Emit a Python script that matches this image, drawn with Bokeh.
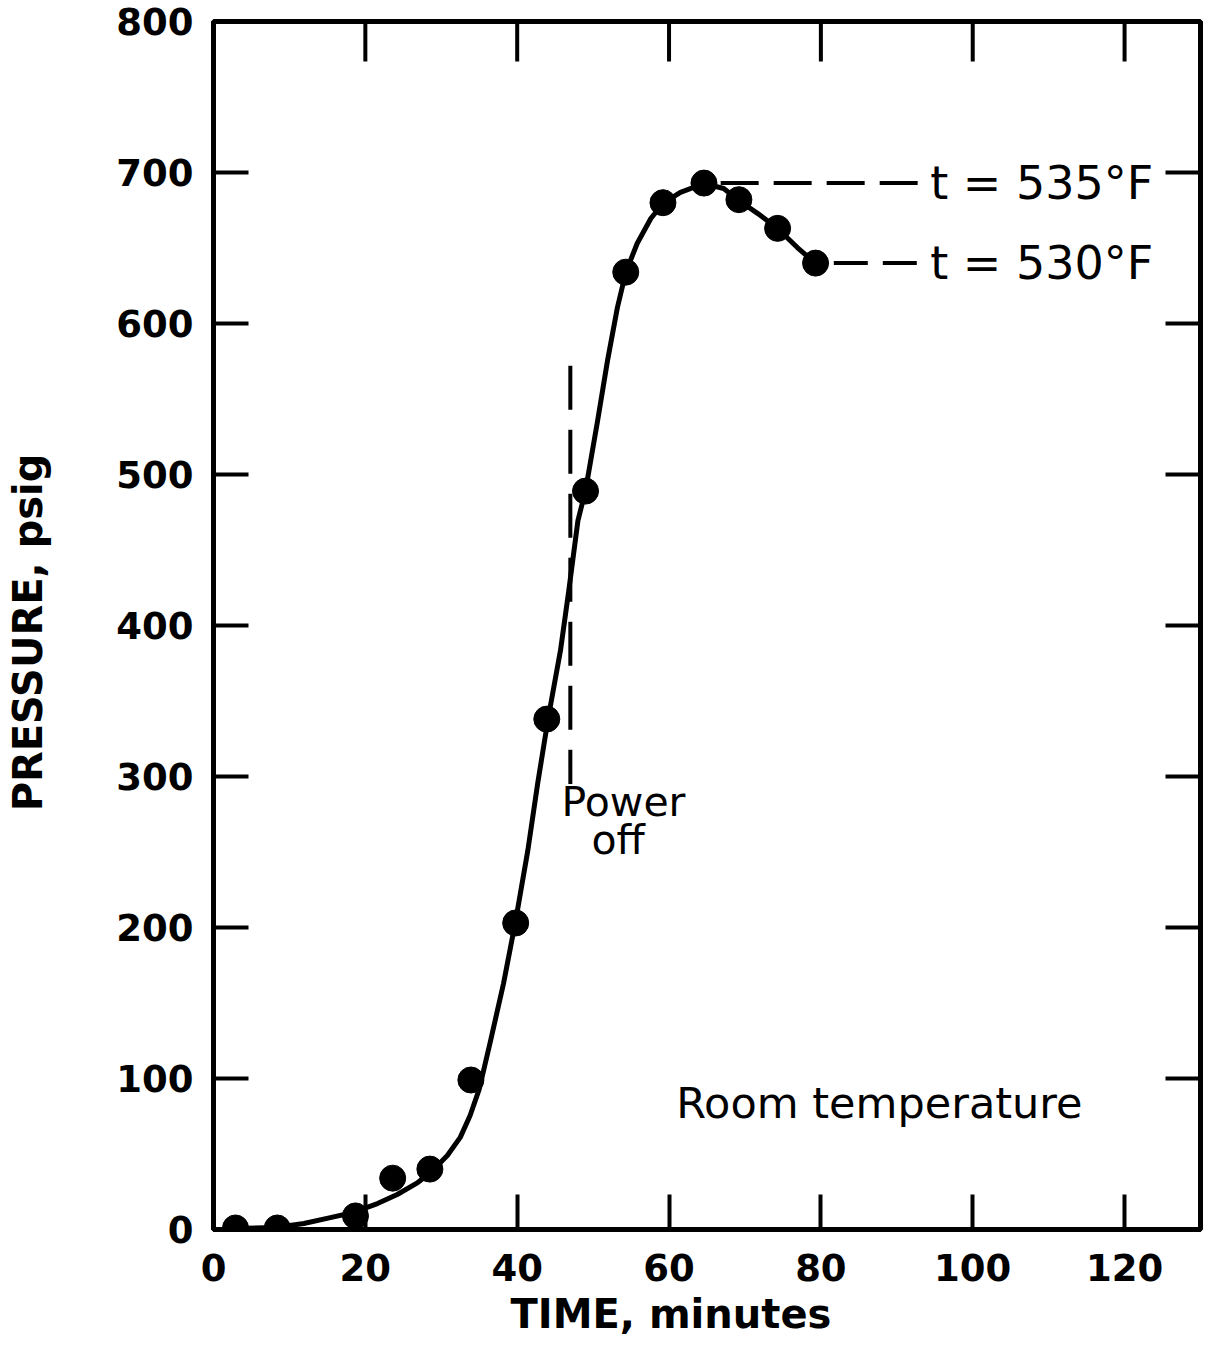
from bokeh.plotting import figure
from bokeh.models import Range1d, FixedTicker, Title
from bokeh.core.properties import value
from bokeh.embed import file_html
from bokeh.resources import INLINE

# Measured pressure readings (time in minutes, pressure in psig)
time_min = [2.9, 8.4, 18.7, 23.6, 28.5, 33.9, 39.8, 43.9, 49.0, 54.3, 59.2, 64.6, 69.2, 74.3, 79.3]
pressure_psig = [1, 1, 9, 34, 40, 99, 203, 338, 489, 634, 680, 693, 682, 663, 640]

# Faired curve drawn through the readings
curve_time = [2.6, 8.2, 11.9, 15.4, 18.4, 21.6, 24.2, 26.9, 28.6, 30.8, 32.5, 33.8,
              35.0, 36.5, 38.2, 39.8, 41.4, 42.7, 44.1, 45.7, 46.8, 48.0, 49.0,
              50.6, 51.9, 53.2, 54.3, 55.8, 57.6, 59.2, 61.5, 64.6, 67.2, 69.2,
              71.7, 74.3, 76.9, 79.3]
curve_psig = [0.7, 1.3, 4.0, 7.9, 11.3, 17.2, 23.2, 31.1, 37.7, 49.0, 61.0, 75.5,
              93.0, 125.2, 162.9, 204.6, 251.0, 295.4, 339.1, 383.4, 423.2, 469.5, 489.4,
              535.8, 575.5, 610.6, 633.8, 653.0, 669.5, 679.5, 686.8, 692.7, 689.4, 681.5,
              672.8, 662.9, 650.3, 639.7]

# Annotations
power_off_time = 47.0
power_off_span = [572, 295]
peak_psig = 693
final_psig = 640
peak_label = "t = 535°F"
final_label = "t = 530°F"

x_ticks = [0, 20, 40, 60, 80, 100, 120]
y_ticks = [0, 100, 200, 300, 400, 500, 600, 700, 800]
X_MAX, Y_MAX = 130, 800

FONT = "DejaVu Sans"

p = figure(width=1205, height=1349, output_backend="svg", toolbar_location=None,
           x_range=Range1d(0, X_MAX), y_range=Range1d(0, Y_MAX),
           min_border_left=213, min_border_right=5, min_border_top=21, min_border_bottom=120,
           y_axis_label="PRESSURE,  psig")
p.background_fill_color = "white"
p.border_fill_color = "white"
p.outline_line_color = "black"
p.outline_line_width = 5
p.xgrid.visible = False
p.ygrid.visible = False

for ax, ticks in ((p.xaxis[0], x_ticks), (p.yaxis[0], y_ticks)):
    ax.ticker = FixedTicker(ticks=ticks)
    ax.axis_line_width = 5
    ax.major_tick_line_width = 4
    ax.major_tick_in = 35
    ax.major_tick_out = 0
    ax.minor_tick_line_color = None
    ax.major_label_text_font = FONT
    ax.major_label_text_font_size = "37px"
    ax.major_label_text_font_style = "bold"
    ax.major_label_text_color = "black"
    ax.axis_label_text_font = FONT
    ax.axis_label_text_font_size = "40px"
    ax.axis_label_text_font_style = "bold"
    ax.axis_label_text_color = "black"

p.xaxis[0].major_label_standoff = 24
p.yaxis[0].major_label_standoff = 20
p.yaxis[0].axis_label_standoff = 62

# Time axis title, set slightly left of the frame centre
p.add_layout(Title(text="TIME,  minutes", align="left", offset=297, standoff=10,
                   text_font=FONT, text_font_size="40px", text_font_style="bold",
                   text_line_height=0.9, text_color="black"), "below")

# Inward ticks along the top and right edges
top_len = 40 * Y_MAX / 1208
right_len = 35 * X_MAX / 987
p.segment(x0=x_ticks[1:], y0=[Y_MAX] * 6, x1=x_ticks[1:], y1=[Y_MAX - top_len] * 6,
          line_color="black", line_width=4)
p.segment(x0=[X_MAX] * 7, y0=y_ticks[1:-1], x1=[X_MAX - right_len] * 7, y1=y_ticks[1:-1],
          line_color="black", line_width=4)

# Curve and readings
p.line(curve_time, curve_psig, line_color="black", line_width=5, line_join="round")
p.scatter(time_min, pressure_psig, size=26, fill_color="black", line_color="black")

# Power-off marker
p.line([power_off_time, power_off_time], power_off_span, line_color="black",
       line_width=4, line_dash="44 20")
p.text(x=[54.0], y=[283], text=["Power"], text_font=value(FONT), text_font_size="41px",
       text_align="center", text_baseline="middle", text_color="black")
p.text(x=[53.3], y=[258], text=["off"], text_font=value(FONT), text_font_size="41px",
       text_align="center", text_baseline="middle", text_color="black")

# Temperature leaders
p.line([66.8, 93.1], [peak_psig, peak_psig], line_color="black", line_width=4, line_dash="38 15")
p.line([81.7, 93.1], [final_psig, final_psig], line_color="black", line_width=4, line_dash="34 15")
p.text(x=[94.4, 94.4], y=[peak_psig, final_psig], text=[peak_label, final_label],
       text_font=value(FONT), text_font_size="46px", text_align="left",
       text_baseline="middle", text_color="black")

p.text(x=[87.7], y=[84], text=["Room temperature"], text_font=value(FONT),
       text_font_size="43px", text_align="center", text_baseline="middle", text_color="black")

open("out.html", "w").write(file_html(p, INLINE))
